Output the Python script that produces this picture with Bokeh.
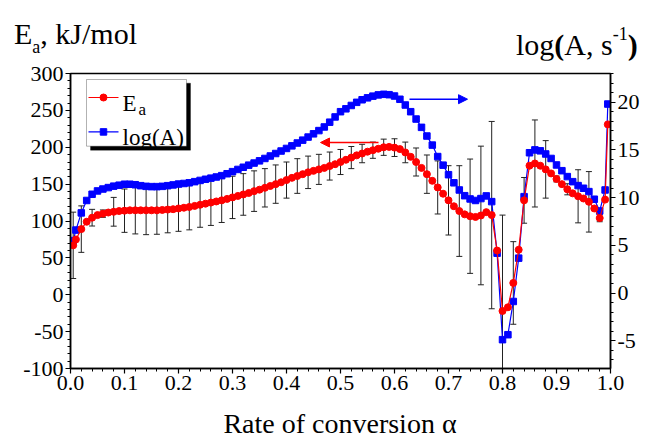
from bokeh.plotting import figure
from bokeh.layouts import column
from bokeh.models import (Range1d, LinearAxis, SingleIntervalTicker, NumeralTickFormatter,
                          ColumnDataSource, Whisker, TeeHead, Arrow, NormalHead,
                          BoxAnnotation, Label, Div)
from bokeh.embed import file_html
from bokeh.resources import INLINE

# Rate of conversion
alpha = [0.005, 0.01, 0.02, 0.03, 0.04, 0.05, 0.06, 0.07, 0.08, 0.09,
         0.10, 0.11, 0.12, 0.13, 0.14, 0.15, 0.16, 0.17, 0.18, 0.19,
         0.20, 0.21, 0.22, 0.23, 0.24, 0.25, 0.26, 0.27, 0.28, 0.29,
         0.30, 0.31, 0.32, 0.33, 0.34, 0.35, 0.36, 0.37, 0.38, 0.39,
         0.40, 0.41, 0.42, 0.43, 0.44, 0.45, 0.46, 0.47, 0.48, 0.49,
         0.50, 0.51, 0.52, 0.53, 0.54, 0.55, 0.56, 0.57, 0.58, 0.59,
         0.60, 0.61, 0.62, 0.63, 0.64, 0.65, 0.66, 0.67, 0.68, 0.69,
         0.70, 0.71, 0.72, 0.73, 0.74, 0.75, 0.76, 0.77, 0.78, 0.79,
         0.80, 0.81, 0.82, 0.83, 0.84, 0.85, 0.86, 0.87, 0.88, 0.89,
         0.90, 0.91, 0.92, 0.93, 0.94, 0.95, 0.96, 0.97, 0.98, 0.99, 0.995]

# Activation energy, kJ/mol
Ea = [67, 75, 89, 99, 104.5, 108, 110, 111.5, 112.5, 113.5,
      114, 114.5, 114.5, 114.5, 114.5, 114.5, 114.5, 115, 115.5, 116,
      117, 118, 119, 120.5, 122, 123.5, 125, 126.5, 128, 130,
      132, 134, 136, 138, 140.5, 142.5, 145, 147.5, 150, 152.5,
      155.5, 158.5, 161, 163.5, 166, 168, 170, 172, 174.5, 177,
      180, 183, 186, 189, 191.5, 194, 196, 198, 200, 200.5,
      199.5, 197.5, 193, 187, 180, 172, 163.5, 154.5, 145.5, 137,
      128, 120, 113.5, 109, 106.5, 105.5, 107.5, 112, 108, 60,
      -22, -17, 16, 61, 128, 175, 178, 175, 170, 164.5,
      157, 150, 143, 137.5, 133.5, 130.5, 126, 117, 104, 129, 231]

# Pre-exponential factor, log(A / s^-1)
logA = [5.5, 6.6, 8.4, 9.7, 10.35, 10.7, 10.9, 11.05, 11.2, 11.3,
        11.4, 11.4, 11.35, 11.25, 11.18, 11.15, 11.15, 11.18, 11.25, 11.33,
        11.42, 11.48, 11.55, 11.67, 11.8, 11.92, 12.04, 12.16, 12.3, 12.5,
        12.72, 12.95, 13.18, 13.4, 13.62, 13.85, 14.1, 14.36, 14.62, 14.88,
        15.15, 15.42, 15.72, 16.02, 16.34, 16.68, 17.02, 17.4, 17.9, 18.45,
        19.0, 19.3, 19.65, 19.98, 20.25, 20.45, 20.63, 20.76, 20.82, 20.78,
        20.64, 20.3, 19.7, 19.0, 18.23, 17.36, 16.45, 15.5, 14.3, 13.4,
        12.4, 11.55, 10.8, 10.2, 9.86, 9.7, 9.9, 10.18, 9.58, 4.18,
        -4.88, -4.36, -0.88, 3.66, 10.1, 14.7, 15.0, 14.9, 14.57, 14.1,
        13.42, 12.82, 12.2, 11.67, 11.26, 10.98, 10.63, 9.83, 8.6, 10.8, 19.8]

# Standard deviation of Ea at selected conversions
err_alpha = [0.005, 0.02, 0.04, 0.06, 0.08, 0.10, 0.12, 0.14, 0.16, 0.18,
             0.20, 0.22, 0.24, 0.26, 0.28, 0.30, 0.32, 0.34, 0.36, 0.38,
             0.40, 0.42, 0.44, 0.46, 0.48, 0.50, 0.52, 0.54, 0.56, 0.58,
             0.60, 0.62, 0.64, 0.66, 0.68, 0.70, 0.72, 0.74, 0.76, 0.78,
             0.80, 0.82, 0.84, 0.86, 0.88, 0.90, 0.92, 0.94, 0.96, 0.98]
err_Ea = [45, 31.5, 11.3, 5, 19.5, 29.4, 32, 33, 32.5, 31.5,
          31, 31, 30.5, 31, 30, 28.7, 28.2, 27.5, 26, 26,
          24.5, 23.5, 22, 20.4, 19, 17, 15, 12.5, 11, 11,
          12, 14, 19, 26, 36, 47, 61.5, 77.5, 94, 127,
          130, 56, 31, 59, 39, 4, 7.5, 36, 41, 5]

x_ticks_step = 0.1
Ea_ticks_step = 50
logA_ticks_step = 5

SERIF = "Liberation Serif"
W = 645
HEAD_H, MAIN_H, FOOT_H = 60, 348, 30

# ---- header strip with both axis titles ----
head_html = (
    '<div style="position:relative;width:645px;height:60px;'
    "font-family:'Liberation Serif',serif;color:#000;\">"
    '<div style="position:absolute;left:14px;top:19px;font-size:30px;line-height:30px;'
    'white-space:nowrap;">E<span style="font-size:18px;vertical-align:-9px;">a</span>'
    ', kJ/mol</div>'
    '<div style="position:absolute;left:516px;top:19px;font-size:30px;line-height:30px;'
    'white-space:nowrap;">log<b>(</b>A, s<span style="font-size:18px;'
    'vertical-align:15px;">-1</span><b>)</b></div>'
    '</div>'
)
head = Div(text=head_html, width=W, height=HEAD_H, margin=(0, 0, 0, 0))

# ---- footer strip with the x axis title ----
foot_html = (
    '<div style="position:relative;width:645px;height:30px;'
    "font-family:'Liberation Serif',serif;color:#000;\">"
    '<div style="position:absolute;left:40px;width:600px;top:1px;font-size:28px;'
    'line-height:30px;text-align:center;white-space:nowrap;">'
    'Rate of conversion \u03b1</div></div>'
)
foot = Div(text=foot_html, width=W, height=FOOT_H, margin=(0, 0, 0, 0))

# ---- main plot ----
p = figure(width=W, height=MAIN_H, x_range=Range1d(0, 1), y_range=Range1d(-100, 300),
           output_backend="svg", toolbar_location=None,
           min_border_left=70, min_border_right=35, min_border_top=13, min_border_bottom=40)
p.xgrid.visible = False
p.ygrid.visible = False
p.outline_line_color = "black"
p.outline_line_width = 1.5

p.extra_y_ranges = {"logA": Range1d(-7.9, 23.0)}
right_axis = LinearAxis(y_range_name="logA")
p.add_layout(right_axis, "right")

p.xaxis[0].ticker = SingleIntervalTicker(interval=x_ticks_step, num_minor_ticks=5)
p.xaxis[0].formatter = NumeralTickFormatter(format="0.0")
p.yaxis[0].ticker = SingleIntervalTicker(interval=Ea_ticks_step, num_minor_ticks=5)
p.yaxis[0].formatter = NumeralTickFormatter(format="0")
right_axis.ticker = SingleIntervalTicker(interval=logA_ticks_step, num_minor_ticks=5)
right_axis.formatter = NumeralTickFormatter(format="0")

for ax in (p.xaxis[0], p.yaxis[0], right_axis):
    ax.axis_line_color = "black"
    ax.axis_line_width = 1.5
    ax.major_tick_line_color = "black"
    ax.minor_tick_line_color = "black"
    ax.major_tick_line_width = 1.2
    ax.minor_tick_line_width = 1
    ax.major_tick_in = 0
    ax.major_tick_out = 5
    ax.minor_tick_in = 0
    ax.minor_tick_out = 3
    ax.major_label_text_font = SERIF
    ax.major_label_text_font_size = "22px"
    ax.major_label_text_color = "black"
    ax.major_label_standoff = 2

# error bars of Ea
err_center = [Ea[alpha.index(a)] for a in err_alpha]
err_src = ColumnDataSource(data=dict(
    x=err_alpha,
    upper=[c + e for c, e in zip(err_center, err_Ea)],
    lower=[c - e for c, e in zip(err_center, err_Ea)],
))
p.add_layout(Whisker(source=err_src, base="x", upper="upper", lower="lower",
                     line_color="#222222", line_width=1, level="underlay",
                     upper_head=TeeHead(size=6, line_color="#222222", line_width=1),
                     lower_head=TeeHead(size=6, line_color="#222222", line_width=1)))

src = ColumnDataSource(data=dict(alpha=alpha, Ea=Ea, logA=logA))
p.line("alpha", "logA", source=src, y_range_name="logA", line_color="blue", line_width=1.2)
p.scatter("alpha", "logA", source=src, y_range_name="logA", marker="square", size=6.5,
          fill_color="blue", line_color="blue")
p.line("alpha", "Ea", source=src, line_color="red", line_width=1.2)
p.scatter("alpha", "Ea", source=src, marker="circle", size=7,
          fill_color="red", line_color="red")


# page pixel -> data position, for the decorations inside the frame
def fx(px):
    return (px - 70) / 540.0


def fy(py):
    return 300 - (py - 73.3) / 0.7375


# arrows pointing each curve to its axis
p.add_layout(Arrow(x_start=fx(378), y_start=fy(142.3), x_end=fx(320), y_end=fy(142.3),
                   line_color="red", line_width=1.5,
                   end=NormalHead(size=9, fill_color="red", line_color="red")))
p.add_layout(Arrow(x_start=fx(409), y_start=fy(99), x_end=fx(467), y_end=fy(99),
                   line_color="blue", line_width=1.5,
                   end=NormalHead(size=9, fill_color="blue", line_color="blue")))

# legend box with a drop shadow
p.add_layout(BoxAnnotation(left=fx(90), right=fx(190), top=fy(83), bottom=fy(150),
                           fill_color="black", fill_alpha=1, line_color="black",
                           level="underlay"))
p.add_layout(BoxAnnotation(left=fx(86), right=fx(186), top=fy(79.3), bottom=fy(146),
                           fill_color="white", fill_alpha=1, line_color="black",
                           line_width=1, level="underlay"))

p.line([fx(88), fx(118)], [fy(97.3)] * 2, line_color="red", line_width=1.2)
p.scatter([fx(103)], [fy(97.3)], marker="circle", size=7, fill_color="red", line_color="red")
p.line([fx(88), fx(118)], [fy(131.7)] * 2, line_color="blue", line_width=1.2)
p.scatter([fx(103)], [fy(131.7)], marker="square", size=6.5, fill_color="blue",
          line_color="blue")


def ptxt(x, y, s, size):
    p.add_layout(Label(x=fx(x), y=fy(y), text=s, text_font=SERIF, text_font_size=size,
                       text_color="black", text_baseline="alphabetic"))


ptxt(122, 103, "E", "23px")
ptxt(138, 109, "a", "17px")
ptxt(122, 137, "log(A)", "23px")

open("out.html", "w").write(file_html(column(head, p, foot, spacing=0), INLINE))
